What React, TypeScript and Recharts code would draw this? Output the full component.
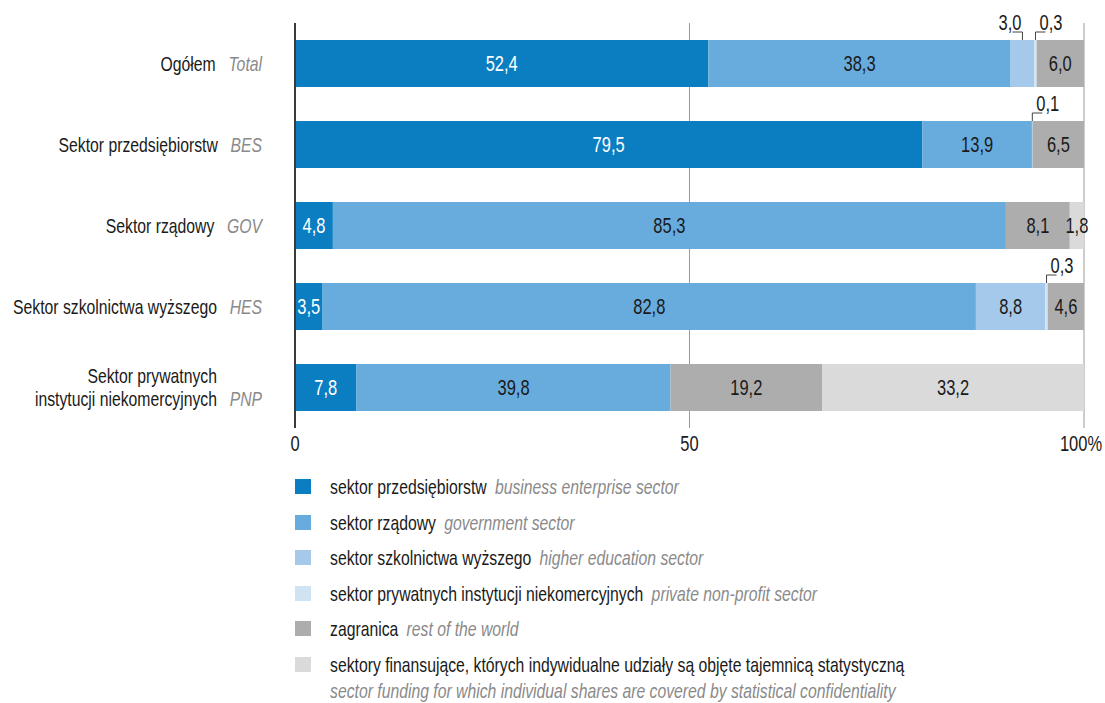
import React from "react";
import { BarChart, Bar, XAxis, YAxis, CartesianGrid, LabelList } from "recharts";

const categories = [
  "Ogółem",
  "Sektor przedsiębiorstw",
  "Sektor rządowy",
  "Sektor szkolnictwa wyższego",
  "Sektor prywatnych\ninstytucji niekomercyjnych",
];
const categoriesEn = ["Total", "BES", "GOV", "HES", "PNP"];

const business = [52.4, 79.5, 4.8, 3.5, 7.8];
const government = [38.3, 13.9, 85.3, 82.8, 39.8];
const higherEdu = [3.0, 0.1, 0, 8.8, 0];
const privateNonProfit = [0.3, 0, 0, 0.3, 0];
const abroad = [6.0, 6.5, 8.1, 4.6, 19.2];
const confidential = [0, 0, 1.8, 0, 33.2];

const xTicks = [0, 50, 100];

const legendPl = [
  "sektor przedsiębiorstw",
  "sektor rządowy",
  "sektor szkolnictwa wyższego",
  "sektor prywatnych instytucji niekomercyjnych",
  "zagranica",
  "sektory finansujące, których indywidualne udziały są objęte tajemnicą statystyczną",
];
const legendEn = [
  "business enterprise sector",
  "government sector",
  "higher education sector",
  "private non-profit sector",
  "rest of the world",
  "sector funding for which individual shares are covered by statistical confidentiality",
];

const series = [
  { key: "business", values: business, color: "#0a7ec1", text: "#ffffff" },
  { key: "government", values: government, color: "#68acdd", text: "#1a1a1a" },
  { key: "higherEdu", values: higherEdu, color: "#a4c9ea", text: "#1a1a1a" },
  { key: "privateNonProfit", values: privateNonProfit, color: "#cfe3f3", text: "#1a1a1a" },
  { key: "abroad", values: abroad, color: "#adadad", text: "#1a1a1a" },
  { key: "confidential", values: confidential, color: "#dadada", text: "#1a1a1a" },
];

// labels drawn above the bar with a bracket pointing left
const leftBracket = ["higherEdu-0"];

const data = categories.map((name, i) => {
  const row: Record<string, number | string> = { name };
  series.forEach((s) => (row[s.key] = s.values[i]));
  return row;
});

// no condensed font installed: squeeze Liberation Sans horizontally
const FONT = "'Liberation Sans', Arial, sans-serif";
const SQUEEZE = 0.75;
const fmt = (v: number) => v.toFixed(1).replace(".", ",");

function NText({ x, y, anchor = "start", size = 22, fill = "#1a1a1a", dy, children }: any) {
  return (
    <g transform={`translate(${x},${y}) scale(${SQUEEZE},1)`}>
      <text x={0} y={0} dy={dy} textAnchor={anchor} fontFamily={FONT} fontSize={size} fill={fill}>
        {children}
      </text>
    </g>
  );
}

function CategoryTick(props: any) {
  const { y, index } = props;
  const lines = categories[index].split("\n");
  const lh = 23;
  const y0 = y - ((lines.length - 1) * lh) / 2;
  return (
    <g>
      {lines.map((line, li) => {
        const last = li === lines.length - 1;
        return (
          <NText key={li} x={262} y={y0 + li * lh} dy="0.35em" anchor="end" size={21}>
            <tspan fill="#1a1a1a">{line}</tspan>
            <tspan dx={17} fill={last ? "#8a8a8a" : "transparent"} fontStyle="italic">
              {categoriesEn[index]}
            </tspan>
          </NText>
        );
      })}
    </g>
  );
}

function ValueTick(props: any) {
  const { x, y, payload } = props;
  const v = payload.value;
  return (
    <NText x={v === 100 ? x - 3 : x} y={y + 15} anchor="middle" size={22}>
      {v === 100 ? "100%" : String(v)}
    </NText>
  );
}

function makeLabel(key: string, textColor: string) {
  return (props: any) => {
    const vb = props.viewBox ?? props;
    const x = Number(vb.x ?? props.x);
    const y = Number(vb.y ?? props.y);
    const width = Number(vb.width ?? props.width);
    const height = Number(vb.height ?? props.height);
    const value = Number(props.value);
    const index = props.index;
    if (!value) return null;
    const cx = x + width / 2;
    const id = `${key}-${index}`;
    if (leftBracket.includes(id) || value < 1) {
      const left = leftBracket.includes(id);
      const hx = left ? cx - 10 : cx + 10;
      return (
        <g>
          <path d={`M${cx},${y} L${cx},${y - 8} L${hx},${y - 8}`} stroke="#444" strokeWidth={1} fill="none" />
          <NText x={left ? cx - 1 : cx + 4} y={y - 10} anchor={left ? "end" : "start"} size={22}>
            {fmt(value)}
          </NText>
        </g>
      );
    }
    return (
      <NText x={cx} y={y + height / 2} dy="0.35em" anchor="middle" size={22} fill={textColor}>
        {fmt(value)}
      </NText>
    );
  };
}

export default function App() {
  return (
    <div style={{ position: "absolute", left: 0, top: 0, width: 1105, height: 703, background: "#fff", fontFamily: FONT }}>
      <BarChart
        width={1105}
        height={470}
        data={data}
        layout="vertical"
        margin={{ top: 23, right: 21, bottom: 12, left: 0 }}
        barSize={47}
      >
        <CartesianGrid horizontal={false} stroke="#9a9a9a" strokeWidth={1} />
        <XAxis
          type="number"
          domain={[0, 100]}
          ticks={xTicks}
          axisLine={false}
          tickLine={false}
          tick={<ValueTick />}
        />
        <YAxis
          type="category"
          dataKey="name"
          width={295}
          axisLine={{ stroke: "#3a3a3a", strokeWidth: 2 }}
          tickLine={false}
          tick={<CategoryTick />}
          interval={0}
        />
        {series.map((s) => (
          <Bar key={s.key} dataKey={s.key} stackId="a" fill={s.color} isAnimationActive={false}>
            <LabelList dataKey={s.key} content={makeLabel(s.key, s.text)} />
          </Bar>
        ))}
      </BarChart>
      {legendPl.map((pl, i) => (
        <div
          key={i}
          style={{ position: "absolute", left: 295, top: 474 + i * 35.6, fontSize: 21, lineHeight: "26px", color: "#1a1a1a" }}
        >
          <div style={{ position: "absolute", left: 0, top: 5, width: 16, height: 15, background: series[i].color }} />
          <div
            style={{
              position: "absolute",
              left: 35,
              top: 0,
              whiteSpace: "nowrap",
              transform: `scaleX(${SQUEEZE})`,
              transformOrigin: "left top",
            }}
          >
            {pl}
            {i === legendPl.length - 1 ? <br /> : <span style={{ display: "inline-block", width: 11 }} />}
            <span style={{ fontStyle: "italic", color: "#8a8a8a" }}>{legendEn[i]}</span>
          </div>
        </div>
      ))}
    </div>
  );
}
